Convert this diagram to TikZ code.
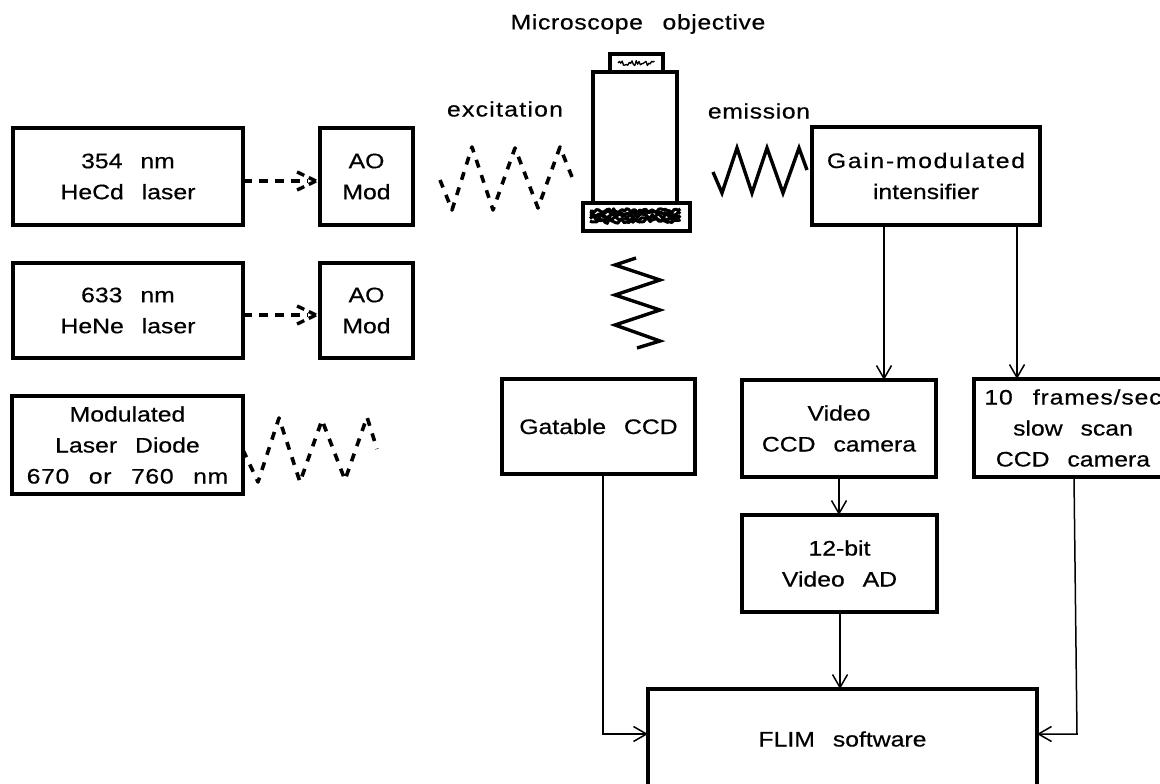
\documentclass[tikz,border=0pt]{standalone}
\usepackage{fontspec}
\setmainfont{Liberation Sans}[FakeStretch=1.18,WordSpace=2.6,FakeBold=0.5]
\usetikzlibrary{arrows.meta,calc}
\newcommand{\wider}[1]{\addfontfeature{LetterSpace=#1}}
\tikzset{
  x=1pt,y=-1pt,
  every node/.style={font=\fontsize{21}{31}\selectfont,outer sep=0pt,inner sep=0pt,align=center},
  blockbox/.style={draw=black,line width=3.4pt,fill=white,minimum width=#1},
  thinarrow/.style={draw=black,line width=1.5pt,-{Straight Barb[length=13pt,width=15pt,line width=1.5pt]}},
  dasharrow/.style={draw=black,line width=3.6pt,dash pattern=on 9pt off 7pt},
  dashbarb/.style={draw=black,line width=3.4pt,dash pattern=on 8pt off 5pt},
  dashwave/.style={draw=black,line width=3.6pt,dash pattern=on 8pt off 8pt,line join=round},
  solidwave/.style={draw=black,line width=3.4pt,line join=miter},
  housing/.style={draw=black,line width=3.4pt,fill=white},
  scribble/.style={draw=black,line join=round}
}
\begin{document}
\begin{tikzpicture}
\useasboundingbox (0,0) rectangle (1160,784);
\clip (0,0) rectangle (1160,784);
% lasers
\node[blockbox=230pt,minimum height=97pt] (hecd) at (128,176.5) {354 nm\\HeCd laser};
\node[blockbox=93pt,minimum height=97pt] (ao1) at (366.5,176.5) {AO\\Mod};
\node[blockbox=230pt,minimum height=95pt] (hene) at (128,310.5) {633 nm\\HeNe laser};
\node[blockbox=93pt,minimum height=95pt] (ao2) at (366.5,310.5) {AO\\Mod};
\node[blockbox=231pt,minimum height=98pt] (diode) at (127.5,445) {Modulated\\Laser Diode\\{\wider{3}670 or 760 nm}};
% dashed connectors
\draw[dasharrow,shorten >=12pt] (hecd.east |- 0,181) coordinate (h1) -- (ao1.west |- 0,181) coordinate (a1);
\draw[dashbarb] ($(a1)+(-4,0)$) -- ($(a1)+(-25,-10)$);
\draw[dashbarb] ($(a1)+(-4,0)$) -- ($(a1)+(-25,10)$);
\draw[dasharrow,shorten >=12pt] (hene.east |- 0,315) coordinate (h2) -- (ao2.west |- 0,315) coordinate (a2);
\draw[dashbarb] ($(a2)+(-4,0)$) -- ($(a2)+(-25,-10)$);
\draw[dashbarb] ($(a2)+(-4,0)$) -- ($(a2)+(-25,10)$);
% waves
\draw[dashwave] (diode.east |- 0,450) -- (258,482) -- (279,418) -- (300,482) -- (322,420) -- (345,480) -- (367,417) -- (377,449);
\draw[dashwave] (440,180) -- (452,210) -- (472,147) -- (493,210) -- (515,148) -- (538,208) -- (560,147) -- (572,177);
\draw[solidwave] (713,172) -- (722,193) -- (737,148) -- (752,193) -- (767,148) -- (783,193) -- (799,148) -- (807,170);
\draw[solidwave] (636,258) -- (615,265) -- (660,280) -- (615,295) -- (660,310) -- (615,325) -- (660,341) -- (637,348);
% objective
\node[housing,minimum width=53pt,minimum height=18pt] (cap) at (636.5,63) {};
\node[housing,minimum width=84pt,minimum height=131pt] (body) at (635,137.5) {};
\node[housing,minimum width=107pt,minimum height=28pt] (base) at (636.5,217) {};
\pgfmathsetseed{42}
\draw[scribble,line width=1.3pt] (618,63) \foreach \i in {1,...,26}{ -- ({618+\i*1.4},{63+rand*2.6}) };
\foreach \yy in {211,213.5,216,218.5,221}{
  \draw[scribble,line width=3pt] (590,\yy) \foreach \i in {1,...,42}{ -- ({590+\i*2.15},{\yy+rand*2.4}) };
}
% labels
\node (micro) at (638,24) {\wider{3}Microscope objective};
\node (exc) at (505,109) {\wider{6}excitation};
\node (emi) at (759,111) {\wider{3}emission};
% right part
\node[blockbox=228pt,minimum height=98pt] (gain) at (926,176) {{\wider{8}Gain-modulated}\\intensifier};
\node[blockbox=193pt,minimum height=95pt] (gate) at (598.5,426.5) {Gatable CCD};
\node[blockbox=194pt,minimum height=97pt] (video) at (839,428.5) {Video\\CCD camera};
\node[blockbox=198pt,minimum height=98pt] (slow) at (1073,428) {{\wider{4}10 frames/sec}\\slow scan\\CCD camera};
\node[blockbox=195pt,minimum height=97pt] (ad) at (839.5,563.5) {12-bit\\Video AD};
\node[blockbox=389pt,minimum height=100pt] (flim) at (842.5,739) {FLIM software};
% thin connectors
\draw[thinarrow] (gain.south -| 884,0) -- (video.north -| 884,0);
\draw[thinarrow] (gain.south -| 1017,0) -- (slow.north -| 1017,0);
\draw[thinarrow] (video.south -| 839,0) -- (ad.north -| 839,0);
\draw[thinarrow] (ad.south -| 840,0) -- (flim.north -| 840,0);
\draw[thinarrow] (gate.south -| 603,0) -- (603,734) -- (flim.west |- 0,734);
\draw[thinarrow] (slow.south -| 1074,0) -- (1077,734) -- (flim.east |- 0,734);
\end{tikzpicture}
\end{document}
